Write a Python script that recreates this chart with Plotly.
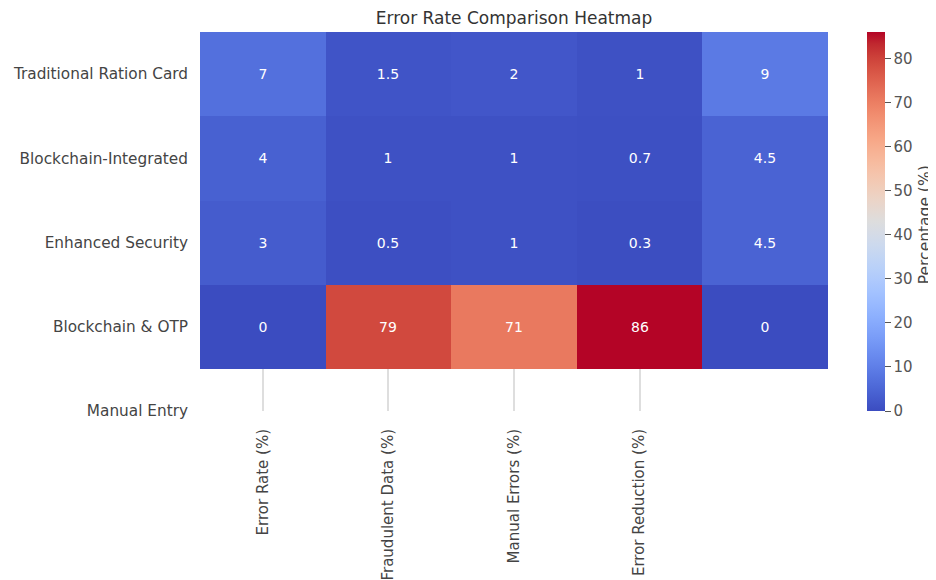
import plotly.graph_objects as go

row_labels = ["Traditional Ration Card", "Blockchain-Integrated", "Enhanced Security",
              "Blockchain & OTP", "Manual Entry"]
col_labels = ["Error Rate (%)", "Fraudulent Data (%)", "Manual Errors (%)", "Error Reduction (%)"]

traditional = [7, 1.5, 2, 1, 9]
blockchain_integrated = [4, 1, 1, 0.7, 4.5]
enhanced_security = [3, 0.5, 1, 0.3, 4.5]
blockchain_otp = [0, 79, 71, 86, 0]

colorbar_ticks = [0, 10, 20, 30, 40, 50, 60, 70, 80]

z = [traditional, blockchain_integrated, enhanced_security, blockchain_otp]
text = [[f"{v:g}" for v in row] for row in z]
n_cols = len(z[0])
n_rows = len(z)

coolwarm = [
    (59, 76, 192), (68, 90, 204), (77, 104, 215), (87, 117, 225), (98, 130, 234),
    (108, 142, 241), (119, 154, 247), (130, 165, 251), (141, 176, 254), (152, 185, 255),
    (163, 194, 255), (174, 201, 253), (184, 208, 249), (194, 213, 244), (204, 217, 238),
    (213, 219, 230), (221, 221, 221), (229, 216, 209), (236, 211, 197), (241, 204, 184),
    (245, 196, 172), (247, 187, 159), (247, 177, 147), (247, 166, 134), (244, 154, 123),
    (241, 141, 111), (236, 127, 99), (229, 112, 89), (222, 96, 77), (213, 80, 66),
    (203, 62, 56), (192, 40, 47), (180, 4, 38),
]
colorscale = [[i / (len(coolwarm) - 1), f"rgb{c}"] for i, c in enumerate(coolwarm)]

FONT = "DejaVu Sans"
W, H = 928, 572  # page body has an 8px offset inside the 936x580 window

fig = go.Figure(go.Heatmap(
    z=z,
    x=list(range(n_cols)),
    y=list(range(n_rows)),
    text=text,
    texttemplate="%{text}",
    textfont=dict(family=FONT, size=14, color="white"),
    colorscale=colorscale,
    zmin=0,
    zmax=86,
    colorbar=dict(
        x=1.062, xanchor="left", xpad=0,
        y=0.5, yanchor="middle", ypad=0,
        len=1, lenmode="fraction",
        thickness=18,
        outlinewidth=0,
        ticks="outside", ticklen=6, tickcolor="#555", tickwidth=1.2,
        tickvals=colorbar_ticks,
        tickfont=dict(family=FONT, size=15, color="#555"),
    ),
))

fig.add_annotation(
    text="Percentage (%)", textangle=-90,
    xref="paper", yref="paper", x=1.155, y=0.491,
    xanchor="center", yanchor="middle", showarrow=False,
    font=dict(family=FONT, size=15.5, color="#444"),
)

fig.update_layout(
    width=W, height=H,
    margin=dict(l=192, r=W - 192 - 628, t=24, b=H - 24 - 379, autoexpand=False),
    paper_bgcolor="white",
    plot_bgcolor="white",
    title=dict(text="Error Rate Comparison Heatmap", x=0.5, xref="paper",
               y=1 - 10 / H, yref="container", yanchor="middle", xanchor="center",
               font=dict(family=FONT, size=17, color="#333")),
    xaxis=dict(
        range=[-0.5, n_cols - 0.5],
        tickvals=list(range(len(col_labels))),
        ticktext=col_labels,
        tickangle=-90,
        automargin=False,
        showgrid=True, gridcolor="#dedede", gridwidth=1.5,
        zeroline=False, showline=False, ticks="",
        ticklabelstandoff=14,
        tickfont=dict(family=FONT, size=15, color="#444"),
    ),
    yaxis=dict(
        range=[len(row_labels) - 1, -0.5],
        tickvals=list(range(len(row_labels))),
        ticktext=row_labels,
        automargin=False,
        showgrid=False, zeroline=False, showline=False, ticks="",
        ticklabelstandoff=11,
        tickfont=dict(family=FONT, size=15.3, color="#444"),
    ),
)

fig.write_html("out.html")
